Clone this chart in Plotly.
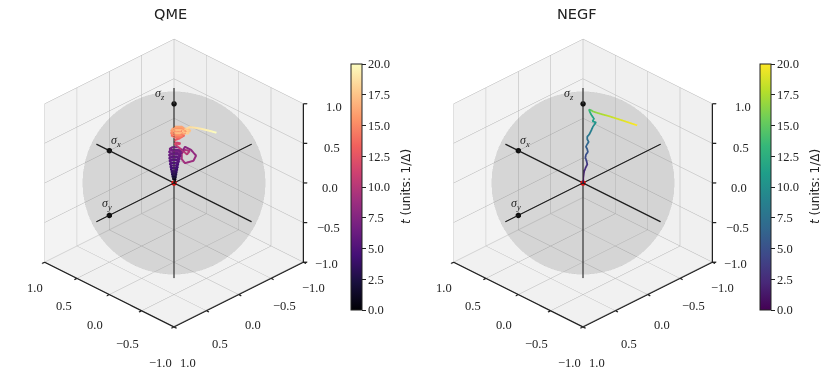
import numpy as np
import plotly.graph_objects as go

# Values. x = y puts a point in the plane facing the viewer.
qme_t = [0,
 0.4,0.6,0.8,1.0,1.2,1.4,
 1.6,1.75,1.9,2.05,2.2,2.4,
 2.6,2.7,2.8,2.9,3.0,3.1,
 3.2,3.28,3.36,3.44,3.52,3.6,
 3.7,3.78,3.86,3.94,4.02,4.1,
 4.2,4.28,4.36,4.44,4.52,4.6,
 4.7,4.76,4.82,4.88,4.94,5.0,
 5.1,5.16,5.22,5.28,5.34,5.4,
 5.5,5.56,5.62,5.68,5.74,5.8,
 5.9,5.96,6.02,6.08,6.14,6.2,
 6.3,6.36,6.42,6.48,6.54,6.6,
 6.7,6.76,6.82,6.88,6.94,7.0,
 7.4,7.8,8.1,8.4,8.7,9.0,9.2,9.4,9.6,9.8,10.0,10.3,10.6,10.9,11.2,11.5,11.9,12.3,12.7,13.1,
 13.3,13.5,13.7,13.9,14.1,14.3,
 14.5,14.65,14.8,14.95,15.1,15.25,
 15.4,15.5,15.6,15.7,15.8,15.9,
 16.0,16.1,16.2,16.3,16.4,16.5,
 16.6,16.7,16.8,16.9,17.0,17.1,
 17.12,17.14,17.16,17.18,17.2,17.22,
 17.24,17.26,17.28,17.3,17.32,17.34,
 17.4,17.5,17.6,17.7,17.8,17.9,
 17.95,18.0,18.05,18.1,18.2,18.3,
 18.4,18.6,18.9,19.2,19.6,20.0]
qme_r = [0,
 .012,.006,-.006,-.012,-.006,.006,
 .016,.008,-.008,-.016,-.008,.008,
 .019,.010,-.009,-.019,-.009,.010,
 .022,.011,-.011,-.022,-.011,.011,
 .026,.013,-.013,-.026,-.013,.013,
 .030,.015,-.015,-.030,-.015,.015,
 .034,.017,-.017,-.034,-.017,.017,
 .040,.021,-.017,-.036,-.017,.021,
 .045,.024,-.018,-.039,-.018,.024,
 .052,.029,-.017,-.040,-.017,.029,
 .060,.035,-.015,-.040,-.015,.035,
 .055,.032,-.012,-.035,-.012,.032,
 .06,.085,.13,.17,.15,.085,.06,.06,.085,.12,.10,.06,.02,.008,.02,.05,.04,.005,.005,.04,
 .08,.055,.005,-.02,.005,.055,
 .085,.058,.003,-.025,.003,.058,
 .093,.064,.006,-.023,.006,.064,
 .085,.06,.01,-.015,.01,.06,
 .075,.055,.015,-.005,.015,.055,
 .063,.048,.018,.003,.018,.048,
 .053,.043,.023,.013,.023,.043,
 .127,.112,.082,.067,.082,.112,
 .11,.10,.08,.07,.08,.10,
 .10,.123,.17,.213,.27,.328]
qme_z = [0,
 .050,.056,.056,.052,.050,.052,
 .078,.086,.088,.082,.076,.080,
 .108,.119,.121,.112,.102,.104,
 .140,.153,.155,.144,.130,.132,
 .170,.186,.188,.174,.156,.158,
 .202,.218,.220,.206,.188,.190,
 .236,.254,.256,.240,.220,.222,
 .272,.294,.296,.276,.252,.254,
 .308,.332,.334,.312,.286,.288,
 .348,.374,.376,.352,.322,.324,
 .388,.416,.420,.394,.360,.362,
 .425,.450,.452,.430,.400,.400,
 .39,.457,.42,.346,.28,.25,.30,.37,.42,.40,.36,.42,.47,.49,.51,.50,.49,.50,.54,.56,
 .60,.625,.625,.60,.575,.575,
 .63,.66,.66,.63,.60,.60,
 .66,.695,.695,.66,.625,.625,
 .68,.71,.71,.68,.65,.65,
 .665,.69,.69,.665,.64,.64,
 .65,.67,.67,.65,.63,.63,
 .655,.668,.668,.655,.642,.642,
 .654,.685,.685,.654,.623,.623,
 .66,.68,.68,.66,.64,.64,
 .69,.705,.695,.683,.66,.634]

negf_t = [0,1,2,2.7,3.3,3.9,4.4,4.9,5.3,5.7,6.1,6.5,6.9,7.3,7.7,8.1,8.5,9,9.5,10.5,11,11.4,11.9,12.6,13.6,15,16.3,17.4,18.2,19.1,20]
negf_r = [0,.003,.008,.02,.033,.028,.018,.023,.038,.033,.023,.033,.044,.033,.033,.049,.059,.069,.079,.1,.074,.085,.069,.054,.046,.059,.079,.144,.208,.31,.418]
negf_z = [0,.078,.14,.193,.235,.276,.317,.358,.391,.424,.457,.49,.519,.551,.584,.613,.646,.683,.716,.765,.778,.811,.848,.893,.926,.922,.901,.868,.84,.786,.728]

tick_vals = [1, 0.5, 0, -0.5, -1]
tick_text = ["1.0", "0.5", "0.0", "−0.5", "−1.0"]
cbar_ticks = [0, 2.5, 5, 7.5, 10, 12.5, 15, 17.5, 20]
bloch_x = [1, 0, 0]
bloch_y = [0, 1, 0]
bloch_z = [0, 0, 1]
bloch_names = ["<i>σ<sub>x</sub></i>", "<i>σ<sub>y</sub></i>", "<i>σ<sub>z</sub></i>"]
axis_reach = 1.2

SERIF = "Liberation Serif"
INK = "#222222"
fig = go.Figure()

# unit sphere mesh
u = np.linspace(0, 2*np.pi, 61)
v = np.linspace(0, np.pi, 31)
sx = np.outer(np.cos(u), np.sin(v))
sy = np.outer(np.sin(u), np.sin(v))
sz = np.outer(np.ones_like(u), np.cos(v))


def seg(scene, xs, ys, zs, color, width):
    fig.add_trace(go.Scatter3d(x=xs, y=ys, z=zs, scene=scene, mode="lines",
                               line=dict(color=color, width=width), showlegend=False, hoverinfo="skip"))


def add_panel(scene, overlay, r, z, t, cmap, cb_x, traj_w):
    fig.add_trace(go.Surface(x=sx, y=sy, z=sz, scene=scene, showscale=False, opacity=0.135,
                             colorscale=[[0, "#808080"], [1, "#808080"]], hoverinfo="skip",
                             lighting=dict(ambient=1, diffuse=0, specular=0, fresnel=0)))
    # axis spines and tick marks
    seg(overlay, [-1, -1], [-1, -1], [-1, 1], INK, 2.5)
    seg(overlay, [1, -1], [1, 1], [-1, -1], INK, 2.5)
    seg(overlay, [-1, -1], [-1, 1], [-1, -1], INK, 2.5)
    for tv in tick_vals:
        seg(overlay, [-1, -1.03], [-1, -1.03], [tv, tv], INK, 2.5)
        seg(overlay, [tv, tv], [1, 1.04], [-1, -1], INK, 2.5)
        seg(overlay, [-1, -1.04], [tv, tv], [-1, -1], INK, 2.5)
    for ax in range(3):
        e = [[0, 0], [0, 0], [0, 0]]
        e[ax] = [-axis_reach, axis_reach]
        seg(overlay, e[0], e[1], e[2], "#1c1c1c" if ax < 2 else "#3a3a3a", 2.5)
    fig.add_trace(go.Scatter3d(x=bloch_x, y=bloch_y, z=bloch_z, scene=overlay, mode="markers",
                               marker=dict(color="#111111", size=3.2), showlegend=False, hoverinfo="skip"))
    xy = [-a for a in r]
    fig.add_trace(go.Scatter3d(x=xy, y=xy, z=z, scene=overlay, mode="lines", showlegend=False,
        line=dict(width=traj_w, color=t, colorscale=cmap, cmin=0, cmax=20,
                  colorbar=dict(x=cb_x, xanchor="left", xref="paper", y=1-187/378, yanchor="middle",
                                len=246, lenmode="pixels", thickness=11, thicknessmode="pixels",
                                xpad=0, ypad=0, outlinecolor=INK, outlinewidth=1,
                                tickvals=cbar_ticks, ticktext=[f"{c:.1f}" for c in cbar_ticks],
                                ticks="outside", ticklen=3.5, tickcolor=INK, tickwidth=1,
                                tickfont=dict(family=SERIF, size=12.5, color=INK)))))
    fig.add_trace(go.Scatter3d(x=[0], y=[0], z=[0], scene=overlay, mode="markers",
                               marker=dict(color="#e01010", size=3.2), showlegend=False, hoverinfo="skip"))


def axis(bg):
    return dict(range=[-1, 1], tickvals=tick_vals, title=dict(text=""), showticklabels=False,
                backgroundcolor=bg, showbackground=True, gridcolor="#b4b4b4", gridwidth=1,
                zeroline=False, showline=False, ticks="", showspikes=False)


hidden = dict(visible=False, range=[-1.25, 1.25])
D = 1.9
camera = dict(eye=dict(x=-.612*D, y=.612*D, z=.5*D), center=dict(x=0, y=0, z=0),
              up=dict(x=0, y=0, z=1), projection=dict(type="orthographic"))

# label offsets in pixels, per tick
xlab_dx = [-10, -13, -14, -14, -14]
ylab_dx = [14, 14, 14, 13, 10]
lab_dy = [-26, -28, -30, -33, -36]
ylab_dy = [-36, -33, -30, -28, -26]
zlab_dx = [31, 29, 27, 25, 23]
zlab_dy = [-3, -5, -5, -5, -2]


def scene_layout(x0, x1):
    annos = []
    for bx, by, bz, name, dx, dy in zip(bloch_x, bloch_y, bloch_z, bloch_names,
                                        [7, -2, -14], [10, 11, 10]):
        annos.append(dict(x=bx, y=by, z=bz, text=name, showarrow=False, xshift=dx, yshift=dy,
                          font=dict(family=SERIF, size=12, color=INK)))
    tf = dict(family=SERIF, size=12.5, color=INK)
    for i, (tv, tt) in enumerate(zip(tick_vals, tick_text)):
        annos.append(dict(x=tv, y=1, z=-1, text=tt, showarrow=False, xshift=xlab_dx[i], yshift=lab_dy[i], font=tf))
        annos.append(dict(x=-1, y=tv, z=-1, text=tt, showarrow=False, xshift=ylab_dx[i], yshift=ylab_dy[i], font=tf))
        annos.append(dict(x=-1, y=-1, z=tv, text=tt, showarrow=False, xshift=zlab_dx[i], yshift=zlab_dy[i], font=tf))
    return dict(domain=dict(x=[x0/830, x1/830], y=[12/378, 1]),
                xaxis=axis("#f3f3f3"), yaxis=axis("#f0f0f0"), zaxis=axis("#f1f1f1"),
                aspectmode="manual", aspectratio=dict(x=1, y=1, z=1),
                camera=camera, annotations=annos)


def overlay_layout(x0, x1):
    return dict(domain=dict(x=[x0/830, x1/830], y=[12/378, 1]),
                xaxis=hidden, yaxis=hidden, zaxis=hidden,
                aspectmode="manual", aspectratio=dict(x=1.25, y=1.25, z=1.25),
                camera=camera)


add_panel("scene", "scene3", qme_r, qme_z, qme_t, "Magma", 351/830, 4)
add_panel("scene2", "scene4", negf_r, negf_z, negf_t, "Viridis", 760/830, 3.5)


def paper_text(text, px, py, font, size, angle=0):
    return dict(text=text, x=px/830, y=1-py/378, xref="paper", yref="paper", showarrow=False,
                xanchor="center", yanchor="middle", textangle=angle,
                font=dict(family=font, size=size, color=INK))


fig.update_layout(width=830, height=378, margin=dict(l=0, r=0, t=0, b=0), paper_bgcolor="white",
                  showlegend=False, scene=scene_layout(0, 348), scene2=scene_layout(409, 757),
                  scene3=overlay_layout(0, 348), scene4=overlay_layout(409, 757),
                  annotations=[paper_text("QME", 170, 14, "DejaVu Sans", 14.5),
                               paper_text("NEGF", 577, 14, "DejaVu Sans", 14.5),
                               paper_text("<i>t</i> (units: 1/Δ)", 406, 187, "DejaVu Sans", 12, -90),
                               paper_text("<i>t</i> (units: 1/Δ)", 815, 187, "DejaVu Sans", 12, -90)])
fig.write_html("out.html", config=dict(displayModeBar=False),
               post_script="document.body.style.margin='0';")
